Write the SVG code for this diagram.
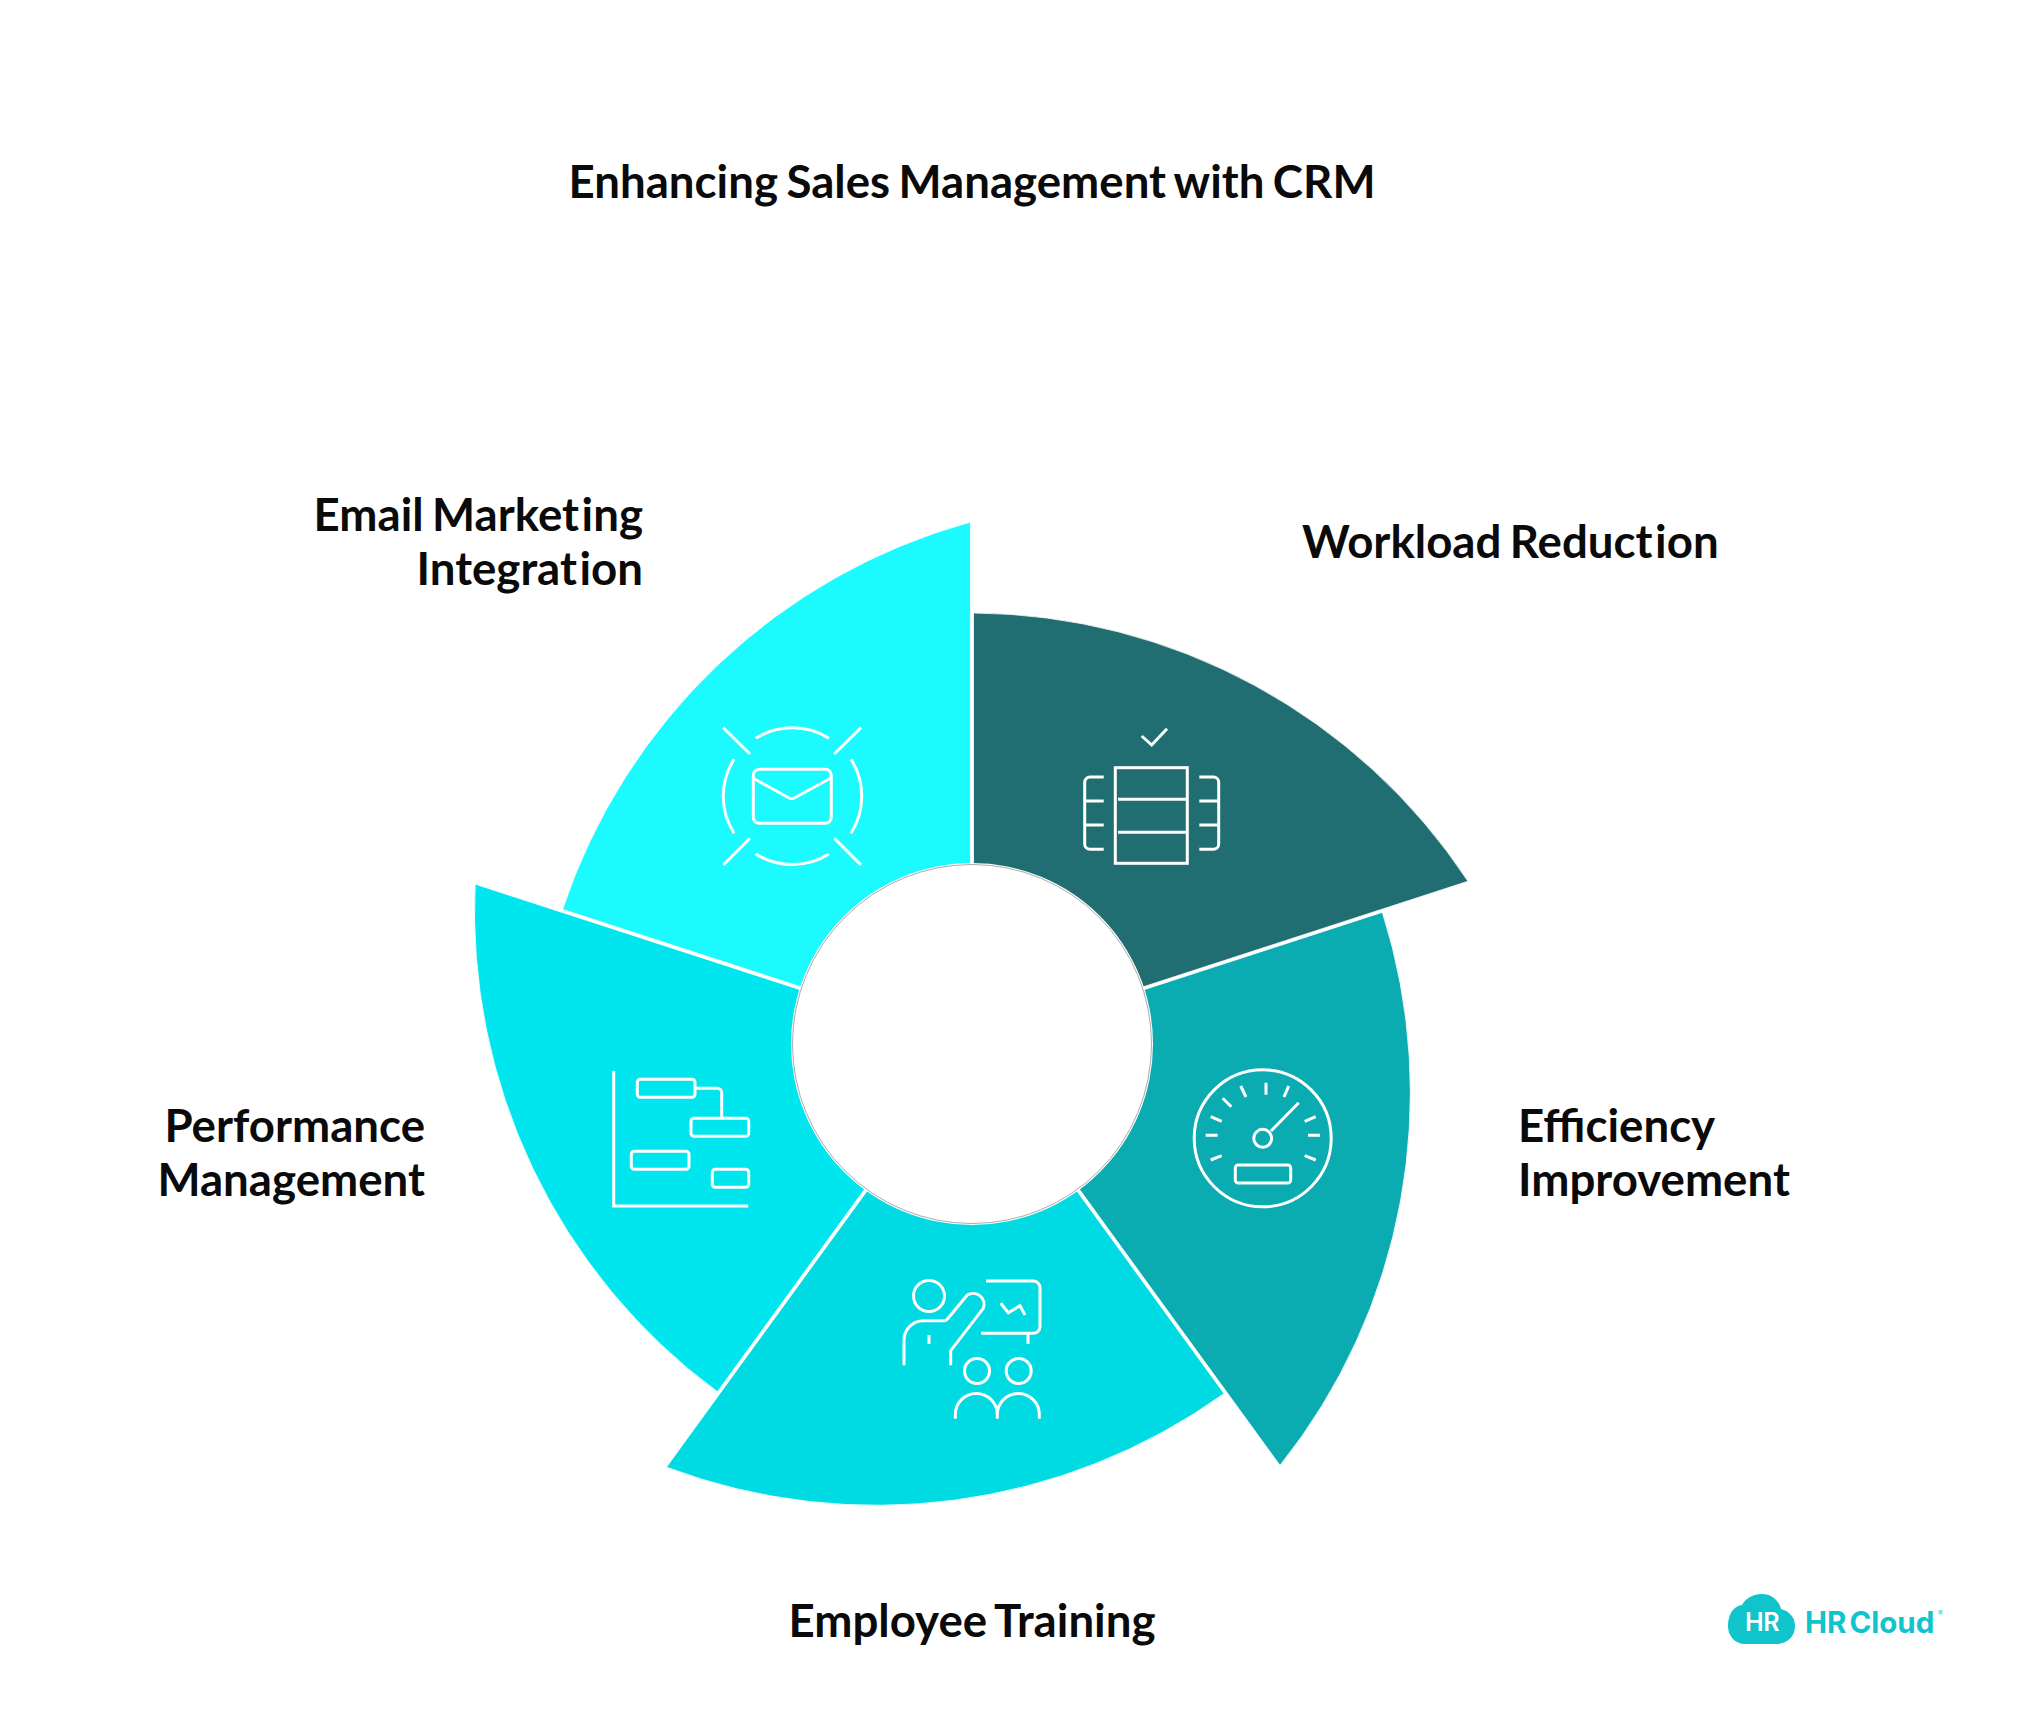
<svg xmlns="http://www.w3.org/2000/svg" width="2032" height="1728" viewBox="0 0 2032 1728">
<style>
.t{font-family:Lato,"Liberation Sans",sans-serif;font-weight:700;font-size:45.6px;word-spacing:-2.7px;letter-spacing:.02px;fill:#0a0a0a}
.l{letter-spacing:0}
.i{fill:none;stroke:#fff;stroke-width:3}
.m{text-anchor:middle}.e{text-anchor:end}
.s{stroke:#fff;stroke-width:.8}
</style>
<defs>
<path id="sector" d="M973.5 613A597 597 0 0 1 1468 881.3L1143.7 986.7L973.5 863Z"/>
</defs>
<rect width="2032" height="1728" fill="#fff"/>
<text class="t m" x="972" y="198">Enhancing Sales Management with CRM</text>
<g id="workload">
<use href="#sector" class="s" fill="#206E71"/>
<g class="i">
<path d="M1141.7 736L1151.7 745L1167 728.7"/>
<rect x="1115.3" y="767.7" width="72" height="95.6"/>
<path d="M1118 799.3H1187M1118 832.3H1187"/>
<path d="M1103.7 777H1090a5.3 5.3 0 0 0-5.3 5.3V844a5.3 5.3 0 0 0 5.3 5.3H1103.7M1084.7 801H1103.7M1084.7 825H1103.7"/>
<path d="M1199.3 777H1213.4a5.3 5.3 0 0 1 5.3 5.3V844a5.3 5.3 0 0 1-5.3 5.3H1199.3M1218.7 801H1199.3M1218.7 825H1199.3"/>
</g>
<text class="t" x="1302" y="558">Workload Reduct<tspan dx="2.5">ion</tspan></text>
</g>
<g id="efficiency">
<use href="#sector" class="s" fill="#0BABB2" transform="rotate(72 972 1044)"/>
<g class="i">
<circle cx="1262.7" cy="1138.3" r="68.5"/>
<circle cx="1262.7" cy="1138.3" r="9"/>
<path d="M1271 1131L1298.7 1102.7M1266 1082.7V1094.7M1240.7 1086L1246 1097M1288.7 1086L1284 1097M1222.7 1098.3L1231.3 1106.7M1210.7 1116.7L1221.7 1121.3M1205.7 1135.3H1217.7M1210.7 1160L1221.7 1155.7M1304.7 1121.3L1315.7 1116.7M1308 1135.3H1320M1304.7 1155.7L1315.7 1160"/>
<rect x="1235.3" y="1165" width="55.4" height="18" rx="3"/>
</g>
<text class="t l" x="1518" y="1142">Efficiency</text>
<text class="t" x="1518" y="1196">Improvement</text>
</g>
<g id="training">
<use href="#sector" class="s" fill="#00DAE3" transform="rotate(144 972 1044)"/>
<g class="i">
<circle cx="929" cy="1296" r="15.5"/>
<path d="M904 1365.3V1340A19.5 19.5 0 0 1 923.3 1320.7H944A4 4 0 0 0 947.5 1319L967.3 1295A11 11 0 0 1 983.3 1308.3L950.7 1350.7V1365.3"/>
<path d="M929 1335V1344"/>
<path d="M986 1281H1033.3A6.7 6.7 0 0 1 1040 1287.7V1326.6A6.7 6.7 0 0 1 1033.3 1333.3H981M1028 1333.3V1344"/>
<path d="M1000.7 1303.3L1008.3 1312.7L1020 1305.7L1025 1315"/>
<circle cx="977" cy="1371" r="12.5"/>
<circle cx="1018.7" cy="1371" r="12.5"/>
<path d="M955.3 1418.7V1414.5A21 21 0 0 1 997.3 1414.5V1418.7M997.3 1414.5A21 21 0 0 1 1039.3 1414.5V1418.7"/>
</g>
<text class="t m" x="972" y="1637">Employee Training</text>
</g>
<g id="performance">
<use href="#sector" class="s" fill="#00E6EE" transform="rotate(216 972 1044)"/>
<g class="i">
<path d="M613.7 1071V1206H748.3"/>
<rect x="637.3" y="1079.3" width="57.7" height="18" rx="3"/>
<rect x="691" y="1118.3" width="57.7" height="18" rx="3"/>
<rect x="631.3" y="1151.3" width="57.7" height="18" rx="3"/>
<rect x="712.3" y="1169.3" width="36.4" height="18" rx="3"/>
<path d="M695 1088.3H717.3A4.4 4.4 0 0 1 721.7 1092.7V1118.3"/>
</g>
<text class="t e" x="425" y="1142">Performance</text>
<text class="t e" x="425" y="1196">Management</text>
</g>
<g id="email">
<use href="#sector" class="s" fill="#1AFAFF" transform="rotate(288 972 1044)"/>
<g class="i">
<rect x="753.3" y="769.3" width="78" height="54" rx="6"/>
<path d="M753.3 778.3L789 798Q791.7 799.3 794.4 798L830.5 778.3"/>
<path d="M723.3 727.7L750 754M861 727.7L834.3 754M750 838.3L723.3 865M834.3 838.3L861 865"/>
<path d="M755.7 738.3A69 69 0 0 1 829 738.3M755.7 854A69 69 0 0 0 829 854M734 759.3A69 69 0 0 0 734 833.3M851 759.3A69 69 0 0 1 851 833.3"/>
</g>
<text class="t e" x="643" y="531">Email Market<tspan dx="2.5">ing</tspan></text>
<text class="t e" x="643" y="585">Integrat<tspan dx="2.5">ion</tspan></text>
</g>
<g id="hub">
<circle cx="972" cy="1044" r="181" fill="#fff"/>
<circle cx="972" cy="1044" r="179.5" fill="none" stroke="#aaa" stroke-width="1"/>
</g>
<g id="connectors"/>
<g id="logo">
<path d="M1745 1644H1776C1788 1644 1795 1636 1795 1626C1795 1617 1789 1611 1781 1609C1779 1600 1771 1594 1762 1594C1753 1594 1746 1598 1742 1605C1733 1606 1728 1615 1728 1626C1728 1636 1735 1644 1745 1644Z" fill="#10C4CB"/>
<text x="1762" y="1631" text-anchor="middle" style="font-family:Inter,sans-serif;font-weight:600;font-size:25px;letter-spacing:-.5px;fill:#fff">HR</text>
<text x="1805" y="1633" style="font-family:Inter,sans-serif;font-weight:700;font-size:29.5px;word-spacing:-4px;fill:#10C4CB">HR Cloud</text>
<text x="1938" y="1616" style="font-family:Inter,sans-serif;font-size:7px;fill:#10C4CB">®</text>
</g>
</svg>
